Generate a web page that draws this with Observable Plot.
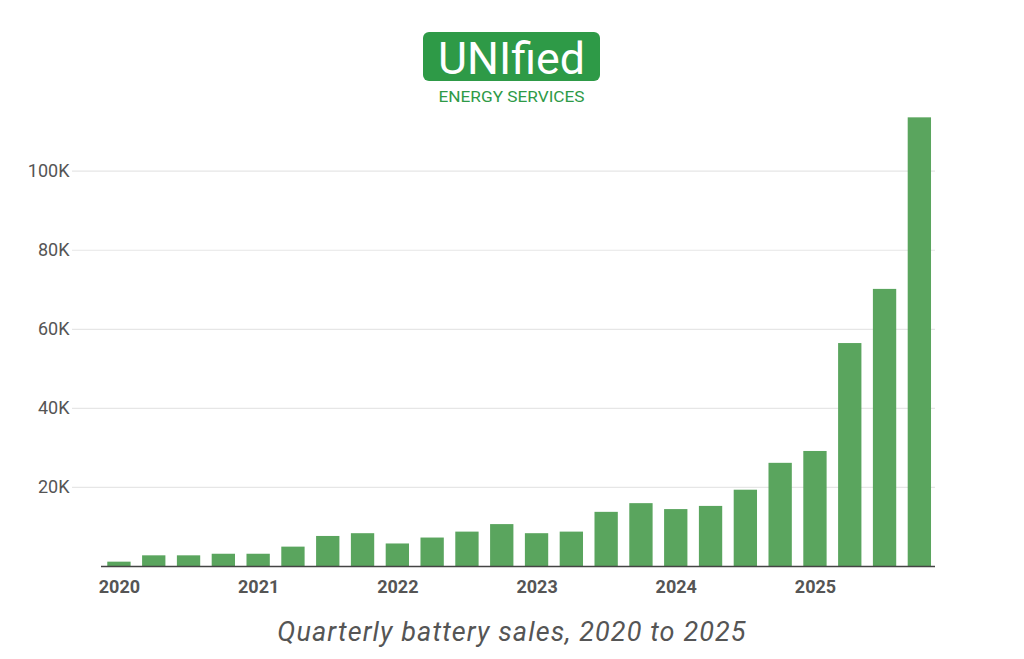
<!DOCTYPE html>
<html>
<head>
<meta charset="utf-8">
<script src="https://cdn.jsdelivr.net/npm/d3@7"></script>
<script src="https://cdn.jsdelivr.net/npm/@observablehq/plot@0.6"></script>
<style>
  html, body { margin: 0; padding: 0; background: #fff; }
  #wrap { position: relative; width: 1024px; height: 659px; overflow: hidden; font-family: Roboto, sans-serif; }
  #header { position: relative; height: 110px; }
  #logo { position: absolute; left: 423px; top: 32px; }
  #chart { height: 490px; }
  #caption { height: 59px; text-align: center; font-style: italic; font-size: 27px; color: #555; letter-spacing: 1.1px; line-height: 64px; }
</style>
</head>
<body>
<div id="wrap">
  <div id="header">
    <svg id="logo" width="180" height="75" viewBox="0 0 180 75">
      <rect x="0" y="0" width="177" height="49" rx="6" fill="#2e9a47"></rect>
      <text x="88.5" y="41.5" text-anchor="middle" fill="#fff" font-family="Roboto, sans-serif" font-size="44" font-weight="400" textLength="147" lengthAdjust="spacingAndGlyphs">UNIfied</text>
      <text x="88.5" y="69.5" text-anchor="middle" fill="#2e9a47" font-family="Roboto, sans-serif" font-size="15.5" textLength="146" lengthAdjust="spacingAndGlyphs">ENERGY SERVICES</text>
    </svg>
  </div>
  <div id="chart"></div>
  <div id="caption">Quarterly battery sales, 2020 to 2025</div>
</div>
<script>
const years = ["2020", "2021", "2022", "2023", "2024", "2025"];
const quarters = ["Q1", "Q2", "Q3", "Q4"];
const sales = [1100, 2700, 2700, 3100, 3100, 4900, 7600, 8300, 5700, 7200, 8700, 10600,
               8300, 8700, 13700, 15900, 14400, 15200, 19300, 26100, 29100, 56400, 70100, 113500];
const yTicks = [20000, 40000, 60000, 80000, 100000];

const periods = years.flatMap(y => quarters.map(q => y + " " + q));
const data = periods.map((p, i) => ({period: p, value: sales[i]}));

const chart = Plot.plot({
  width: 1024,
  height: 490,
  marginLeft: 72,
  marginRight: 89,
  marginTop: 0,
  marginBottom: 34,
  style: {fontFamily: "Roboto, sans-serif", background: "#fff"},
  x: {domain: periods, range: [95.8, 942.5], padding: 0.33, round: false, label: null},
  y: {domain: [0, 100000], range: [456, 60.7], label: null},
  marks: [
    Plot.ruleY(yTicks, {stroke: "#e6e6e6", strokeWidth: 1.2}),
    Plot.barY(data, {x: "period", y: "value", fill: "#5aa55e"}),
    Plot.ruleY([0], {stroke: "#444", strokeWidth: 1.6, insetLeft: 29}),
    Plot.axisY({ticks: yTicks, tickSize: 0, tickPadding: 3, tickFormat: d => (d / 1000) + "K",
      fontSize: 18, fill: "#555", letterSpacing: "0.4px", label: null}),
    Plot.axisX({tickSize: 0, tickPadding: 14, fontSize: 18, fontWeight: "bold", fill: "#555",
      letterSpacing: "0.6px",
      tickFormat: d => d.endsWith("Q1") ? d.slice(0, 4) : "", label: null})
  ]
});
document.getElementById("chart").appendChild(chart);
</script>
</body>
</html>
